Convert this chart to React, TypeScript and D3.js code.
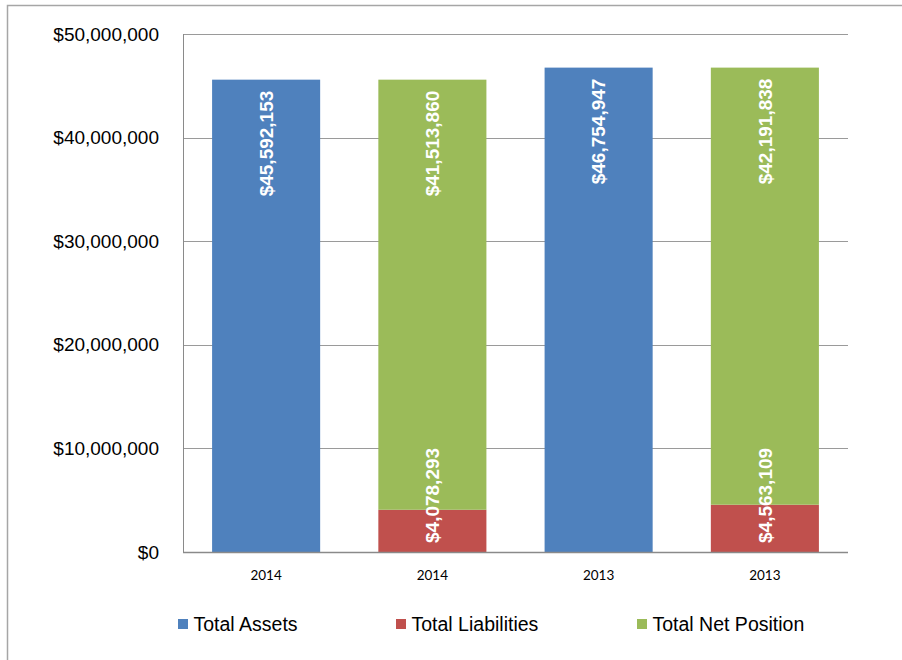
import React from "react";
import * as d3 from "d3";

const categories = ["2014", "2014", "2013", "2013"];
const totalAssets = [45592153, 0, 46754947, 0];
const totalLiabilities = [0, 4078293, 0, 4563109];
const totalNetPosition = [0, 41513860, 0, 42191838];
const yTicks = [0, 10000000, 20000000, 30000000, 40000000, 50000000];
const seriesNames = ["Total Assets", "Total Liabilities", "Total Net Position"];
const seriesColors = ["#4F81BD", "#C0504D", "#9BBB59"];

const W = 902;
const H = 660;
const plot = { left: 183, right: 848, top: 34, bottom: 552 };

export default function App() {
  const y = d3.scaleLinear().domain([0, 50000000]).range([plot.bottom, plot.top]);
  const x = d3
    .scaleBand<number>()
    .domain(categories.map((_, i) => i))
    .range([plot.left, plot.right])
    .paddingInner(0.35)
    .paddingOuter(0.175);
  const bw = x.bandwidth();
  const fmt = (v: number) => "$" + d3.format(",")(v);

  const stacks = categories.map((_, i) => {
    const segs: { s: number; y0: number; y1: number; v: number }[] = [];
    if (totalAssets[i] > 0) segs.push({ s: 0, y0: 0, y1: totalAssets[i], v: totalAssets[i] });
    if (totalLiabilities[i] > 0)
      segs.push({ s: 1, y0: 0, y1: totalLiabilities[i], v: totalLiabilities[i] });
    if (totalNetPosition[i] > 0)
      segs.push({
        s: 2,
        y0: totalLiabilities[i],
        y1: totalLiabilities[i] + totalNetPosition[i],
        v: totalNetPosition[i],
      });
    return segs;
  });

  const legendItems = [
    { x: 178, s: 0 },
    { x: 396, s: 1 },
    { x: 637, s: 2 },
  ];

  return (
    <svg width={W} height={H} style={{ position: "absolute", left: 0, top: 0, fontFamily: "Arial, 'Liberation Sans', sans-serif" }}>
      <rect x={0} y={0} width={W} height={H} fill="#fff" />
      <rect x={7.5} y={5.5} width={W + 20} height={H + 20} fill="none" stroke="#a6a6a6" strokeWidth={1.5} />
      {yTicks.map((t) => (
        <g key={t}>
          <line x1={plot.left} x2={plot.right} y1={Math.round(y(t)) + 0.5} y2={Math.round(y(t)) + 0.5} stroke="#9a9a9a" strokeWidth={1} />
          <text x={159} y={y(t)} dy="0.35em" textAnchor="end" fontSize={19} fill="#000">
            {fmt(t)}
          </text>
        </g>
      ))}
      <line x1={plot.left + 0.5} x2={plot.left + 0.5} y1={plot.top} y2={plot.bottom} stroke="#8a8a8a" />
      {stacks.map((segs, i) =>
        segs.map((seg) => (
          <rect
            key={i + "-" + seg.s}
            x={x(i)}
            y={y(seg.y1)}
            width={bw}
            height={y(seg.y0) - y(seg.y1)}
            fill={seriesColors[seg.s]}
          />
        ))
      )}
      <line x1={plot.left} x2={plot.right} y1={plot.bottom + 0.5} y2={plot.bottom + 0.5} stroke="#8a8a8a" strokeWidth={1.5} />
      {stacks.map((segs, i) =>
        segs.map((seg) => {
          const cx = (x(i) as number) + bw / 2;
          const isBase = seg.s === 1;
          const ty = isBase ? y(seg.y0) - 9 : y(seg.y1) + 11;
          return (
            <text
              key={"l" + i + "-" + seg.s}
              transform={`translate(${cx},${ty}) rotate(-90)`}
              textAnchor={isBase ? "start" : "end"}
              dy="0.36em"
              fontSize={19}
              fontWeight="bold"
              fill="#fff"
            >
              {fmt(seg.v)}
            </text>
          );
        })
      )}
      {categories.map((c, i) => (
        <text
          key={"c" + i}
          x={(x(i) as number) + bw / 2}
          y={575}
          dy="0.35em"
          textAnchor="middle"
          fontSize={13.5}
          fontFamily="Lato, 'Open Sans', sans-serif"
          fill="#000"
        >
          {c}
        </text>
      ))}
      {legendItems.map((l) => (
        <g key={"lg" + l.s}>
          <rect x={l.x} y={619} width={10} height={10} fill={seriesColors[l.s]} />
          <text x={l.x + 15.5} y={624} dy="0.35em" fontSize={19.5} fill="#000">
            {seriesNames[l.s]}
          </text>
        </g>
      ))}
    </svg>
  );
}
